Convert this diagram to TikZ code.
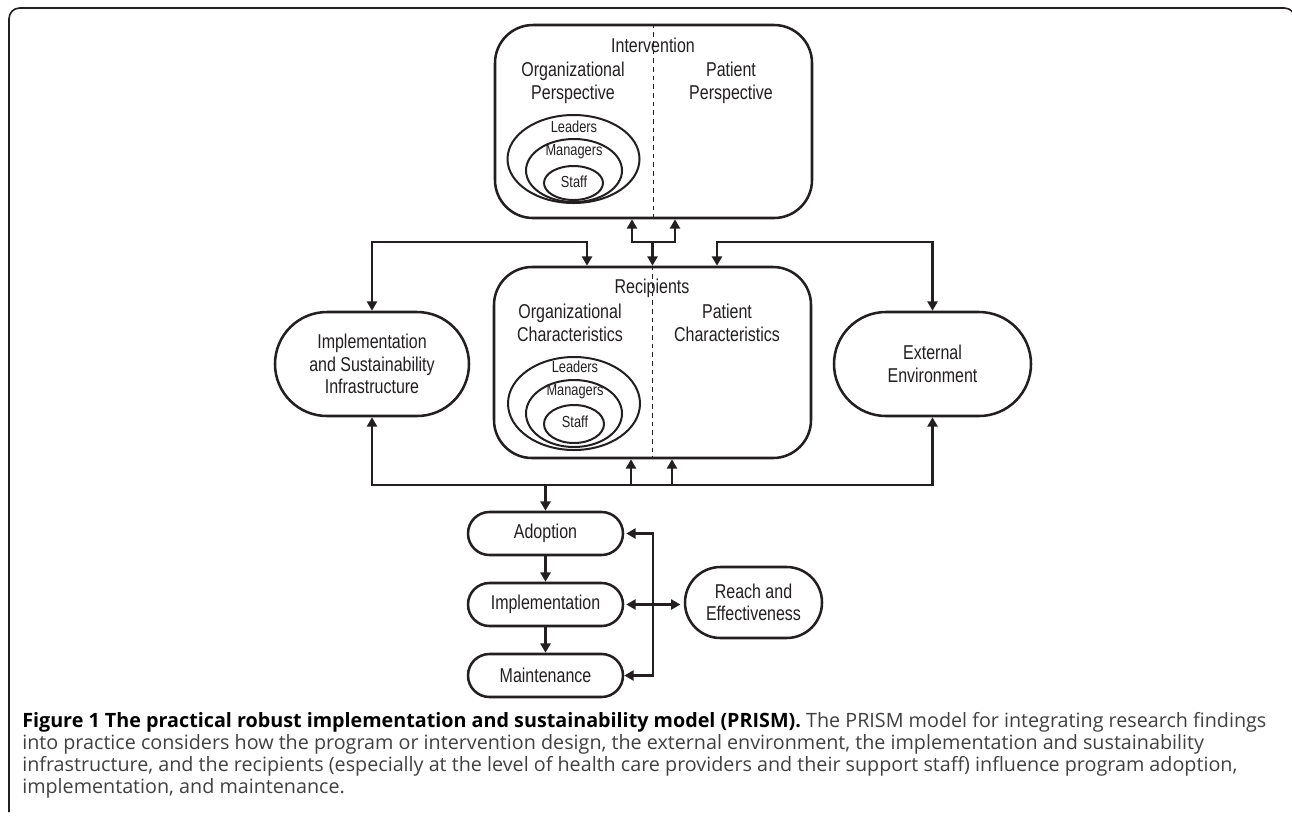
\documentclass[tikz,border=0pt]{standalone}
\usepackage{fontspec}
\setmainfont{Liberation Sans}
\newfontfamily\diagfont{Liberation Sans}[FakeStretch=0.8]
\newfontfamily\capfont{Open Sans}
\usetikzlibrary{arrows.meta,shapes.geometric,calc}
\definecolor{ink}{HTML}{231F20}
\definecolor{captxt}{HTML}{404040}
\begin{document}
\begin{tikzpicture}[x=0.75pt,y=-0.75pt,
  every node/.style={text=ink},
  bigbox/.style={draw=ink,line width=1.9pt,rectangle,rounded corners=28.5pt,minimum width=237.75pt,inner sep=0pt},
  pill/.style={draw=ink,line width=1.9pt,rectangle,align=center,inner sep=0pt,font=\diagfont\fontsize{15pt}{17pt}\selectfont},
  lvl/.style={draw=ink,line width=1.5pt,ellipse,inner sep=0pt},
  lbl/.style={align=center,inner sep=0pt,font=\diagfont\fontsize{15pt}{17pt}\selectfont},
  small/.style={inner sep=0pt,font=\diagfont\fontsize{12pt}{14pt}\selectfont},
  conn/.style={draw=ink,line width=1.9pt},
  tip/.style={-{Triangle[length=7pt,width=7.5pt]}},
  tips/.style={{Triangle[length=7pt,width=7.5pt]}-{Triangle[length=7pt,width=7.5pt]}},
  divider/.style={draw=ink,line width=1pt,dash pattern=on 3.5pt off 3pt}]
\useasboundingbox (0,0) rectangle (1292,819);
% frame
\draw[ink,line width=1.2pt,rounded corners=8pt] (9,812) -- (9,8) -- (1295,8) -- (1295,40);

% big boxes
\node[bigbox,minimum height=144.75pt] (interv) at (653.5,121.5) {};
\node[bigbox,minimum height=143.25pt] (recip) at (652.5,362.5) {};
\draw[divider] (interv.north) -- (interv.south);
\draw[divider] (recip.north) -- (recip.south);

% intervention contents
\node[lbl] (tint) at (653,45) {Intervention};
\node[lbl] (iorg) at (573,83) {Organizational\\Perspective};
\node[lbl] (ipat) at (731,83) {Patient\\Perspective};
\node[lvl,minimum width=99pt,minimum height=66pt] (il) at (573.5,159) {};
\node[lvl,minimum width=72pt,minimum height=47.25pt] (im) at (574,170.5) {};
\node[lvl,minimum width=44.25pt,minimum height=25.5pt] (is) at (573.5,183) {};
\node[small] (ilt) at (574,127) {Leaders};
\node[small] (imt) at (574,152) {Managers};
\node[small] (ist) at (574,182) {Staff};

% recipients contents
\node[lbl] (trec) at (652,288) {Recipients};
\node[lbl] (rorg) at (570,323) {Organizational\\Characteristics};
\node[lbl] (rpat) at (727,323) {Patient\\Characteristics};
\node[lvl,minimum width=99pt,minimum height=69.75pt] (rl) at (574,403.5) {};
\node[lvl,minimum width=72pt,minimum height=50.25pt] (rm) at (574,413.5) {};
\node[lvl,minimum width=45pt,minimum height=28.5pt] (rs) at (574,424) {};
\node[small] (rlt) at (575,367) {Leaders};
\node[small] (rmt) at (575,392) {Managers};
\node[small] (rst) at (575,422) {Staff};

% side pills
\node[pill,rounded corners=39pt,minimum width=145.5pt,minimum height=78pt] (infra) at (372,364) {Implementation\\and Sustainability\\Infrastructure};
\node[pill,rounded corners=39pt,minimum width=147.75pt,minimum height=78pt] (ext) at (932.5,364) {External\\Environment};

% lower pills
\node[pill,rounded corners=16.1pt,minimum width=116.25pt,minimum height=32.25pt] (adopt) at (545.5,533.5) {Adoption};
\node[pill,rounded corners=16.1pt,minimum width=116.25pt,minimum height=32.25pt] (impl) at (545.5,604.5) {Implementation};
\node[pill,rounded corners=16.1pt,minimum width=116.25pt,minimum height=32.25pt] (maint) at (545.5,675.5) {Maintenance};
\node[pill,rounded corners=26.6pt,minimum width=102.75pt,minimum height=53.25pt] (reach) at (753.5,602.5) {Reach and\\Effectiveness};

% top connectors
\coordinate (topL) at (587,242);
\coordinate (topR) at (717,242);
\coordinate (mL) at (632,242);
\coordinate (mR) at (675,242);
\coordinate (mC) at (652.5,242);
\draw[conn,tips] (infra.north) |- (topL) -- (topL |- recip.north);
\draw[conn,tips] (ext.north) |- (topR) -- (topR |- recip.north);
\draw[conn,tips] (mL |- interv.south) -- (mL) -- (mR) -- (mR |- interv.south);
\draw[conn,tip] (mC) -- (recip.north);

% bottom connectors
\coordinate (bline) at (0,485);
\coordinate (b1) at (631,485);
\coordinate (b2) at (672,485);
\draw[conn,tips] (infra.south) |- (bline -| ext.south) -- (ext.south);
\draw[conn,tip] (b1) -- (b1 |- recip.south);
\draw[conn,tip] (b2) -- (b2 |- recip.south);
\draw[conn,tip] (bline -| adopt.north) -- (adopt.north);

% outcome chain
\coordinate (vx) at (653,0);
\draw[conn,tip] (adopt) -- (impl);
\draw[conn,tip] (impl) -- (maint);
\draw[conn,tips,shorten <=1.5pt] (adopt.east) -- (vx |- adopt.east) -- (vx |- maint.east) -- (maint.east);
\draw[conn,tips,shorten <=1.5pt,shorten >=2.5pt] (impl.east) -- (impl.east -| reach.west);

% caption (base anchor = baseline of last line)
\node[anchor=base west,align=left,inner sep=0pt,text=captxt,font=\capfont\fontsize{14.8pt}{16.5pt}\selectfont] (cap) at (22,793)
{{\bfseries\color{black}Figure 1 The practical robust implementation and sustainability model (PRISM).} The PRISM model for integrating research findings\\
into practice considers how the program or intervention design, the external environment, the implementation and sustainability\\
infrastructure, and the recipients (especially at the level of health care providers and their support staff) influence program adoption,\\
implementation, and maintenance.};
\end{tikzpicture}
\end{document}
